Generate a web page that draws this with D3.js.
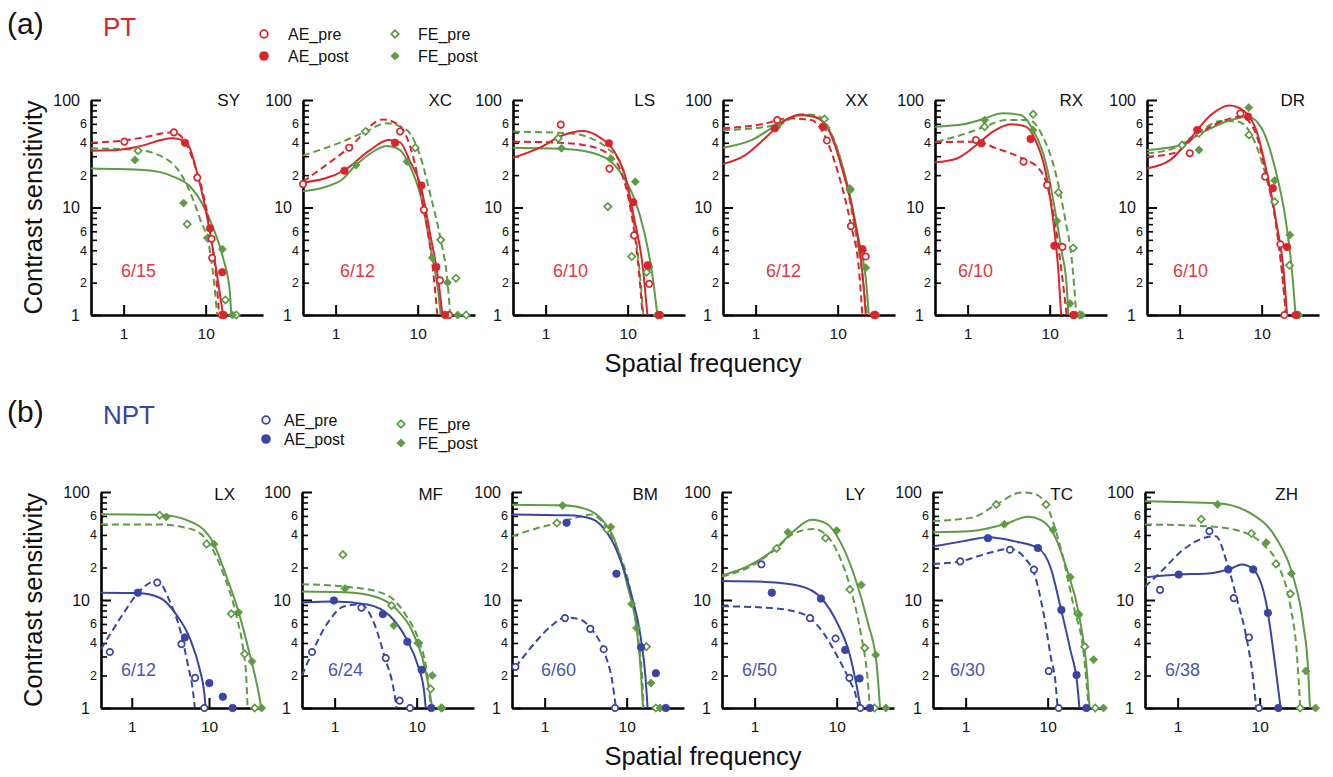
<!DOCTYPE html>
<html>
<head>
<meta charset="utf-8">
<script src="https://cdn.jsdelivr.net/npm/d3@7"></script>
<style>
  body { margin: 0; background: #fff; }
  svg { display: block; }
  text { font-family: "Liberation Sans", Arial, sans-serif; }
</style>
</head>
<body>
<svg id="chart" width="1333" height="777"></svg>
<script>
// ---- data: [spatial frequency, contrast sensitivity] ----
const subjects = ["SY", "XC", "LS", "XX", "RX", "DR", "LX", "MF", "BM", "LY", "TC", "ZH"];
const acuity = ["6/15", "6/12", "6/10", "6/12", "6/10", "6/10", "6/12", "6/24", "6/60", "6/50", "6/30", "6/38"];
const groups = ["PT", "NPT"];
const panelTags = ["(a)", "(b)"];
const legendLabels = ["AE_pre", "AE_post", "FE_pre", "FE_post"];
const xTicks = [1, 10];
const yMajor = [1, 10, 100];
const yMinor = [2, 3, 4, 5, 6, 7, 8, 9, 20, 30, 40, 50, 60, 70, 80, 90];
const yMinorLabelled = [2, 4, 6, 20, 40, 60];

const aePre = [
  [[1.02, 41], [4.1, 50], [7.9, 19], [11.8, 5.1], [12, 3.4], [15.7, 1]],
  [[0.4, 16.5], [1.46, 36], [6.1, 51], [11.9, 9.5], [18.7, 2.1], [24.2, 1]],
  [[1.53, 59], [6.0, 23], [12, 5.5], [18.3, 1.95], [24.8, 1]],
  [[1.83, 65], [7.4, 42], [14.5, 6.7], [22, 3.5], [29, 1]],
  [[1.26, 42.5], [4.8, 26.7], [9.3, 16.2], [14.3, 4.3], [19.4, 1]],
  [[1.33, 32], [5.5, 75], [11, 19.4], [16.9, 4.55], [18.9, 1]],
  [[0.52, 3.3], [2.14, 14.5], [4.4, 3.9], [6.6, 1.9], [8.7, 1]],
  [[0.53, 3.3], [2.12, 8.5], [4.2, 2.9], [6.2, 1.17], [8.3, 1]],
  [[0.44, 2.4], [1.77, 6.8], [3.6, 5.4], [5.25, 3.5], [7.2, 1]],
  [[1.21, 21.4], [4.73, 6.8], [9.7, 4.4], [14.3, 1.9], [19.4, 1]],
  [[0.86, 22.8], [3.47, 29.2], [6.8, 19.1], [10.3, 2.2], [13.6, 1]],
  [[0.61, 12.4], [2.44, 43.4], [4.83, 10.4], [7.4, 4.5], [9.8, 1]]
];
const aePost = [
  [[5.6, 40], [11.3, 6.4], [15.9, 2.5], [16.6, 1]],
  [[1.28, 22], [5.3, 40], [11.1, 16], [16.9, 2.8], [21.6, 1]],
  [[5.9, 39.5], [11.7, 11.2], [17.5, 2.9], [24, 1]],
  [[1.71, 54.5], [6.6, 56.5], [20, 4.1], [27.8, 1]],
  [[1.47, 39.5], [5.86, 43.4], [11.4, 4.4], [19.8, 1]],
  [[1.64, 52.6], [6.83, 70], [13.7, 15.1], [20.4, 4.3], [26, 1]],
  [[1.2, 11.7], [4.86, 4.5], [10.1, 1.7], [15.1, 1.27], [20.2, 1]],
  [[0.98, 9.9], [3.87, 7.4], [7.7, 4.1], [11.5, 2.26], [15.1, 1]],
  [[1.85, 52], [7.5, 17.5], [15, 3.65], [22.7, 2.1], [30, 1]],
  [[1.62, 11.7], [6.43, 10.3], [12.7, 3.45], [19, 1.88], [25.4, 1]],
  [[1.87, 37.4], [7.6, 30.3], [14.7, 8.1], [22.5, 2.02], [29.6, 1]],
  [[1.03, 17.2], [4.14, 19.2], [8.34, 19.2], [12.6, 7.6], [16.9, 1]]
];
const fePre = [
  [[1.5, 33.8], [5.96, 7], [10.6, 5.2], [17.4, 1.38], [23.6, 1]],
  [[2.31, 51], [9.35, 36], [19.1, 5], [29.3, 2.2], [39, 1]],
  [[1.42, 44], [5.73, 10.2], [11.2, 3.5], [17, 2.5], [23.1, 1]],
  [[1.79, 56], [6.9, 66.5], [14.1, 14.9], [20, 4], [29, 1]],
  [[1.61, 56.5], [6.3, 73.6], [12.8, 13.8], [19.4, 4.2], [23.3, 1]],
  [[1.07, 38], [1.72, 49], [7.0, 47.3], [14.4, 11.3], [21.8, 2.9], [27, 1]],
  [[2.3, 61], [9.3, 33], [19.4, 7.45], [28.9, 3.16], [39, 1]],
  [[1.26, 26.3], [4.95, 8.9], [10.4, 4.0], [14.8, 1.5], [20, 1]],
  [[1.41, 51.6], [5.75, 45], [17.4, 3.7], [22.7, 1]],
  [[1.85, 30], [7.3, 37.5], [14.5, 12.5], [22, 3.6], [29, 1]],
  [[2.36, 76.5], [9.55, 76.5], [23.3, 7.5], [28.3, 3.7], [38, 1]],
  [[1.94, 56], [7.96, 41.3], [15.8, 21.6], [23.7, 11.4], [31.2, 1]]
];
const fePost = [
  [[1.37, 27.7], [5.38, 11], [11, 5.2], [16, 4.1], [21.2, 1]],
  [[1.77, 24.8], [7.4, 26.7], [15.1, 3.4], [23.1, 2], [30.7, 1]],
  [[1.56, 35.5], [6.2, 28.3], [12.4, 17.4], [18.3, 2.8], [23.4, 1]],
  [[1.88, 58.5], [7.2, 55.5], [14.2, 14.5], [22, 2.75], [28, 1]],
  [[1.61, 65], [6.25, 52.6], [12.2, 7.5], [17.7, 1.28], [24.5, 1]],
  [[1.72, 34.3], [6.96, 85], [14.4, 17.8], [22, 5.55], [28.5, 1]],
  [[2.8, 58.8], [11.6, 32.9], [24.1, 7.7], [36, 2.7], [48, 1]],
  [[1.34, 12.8], [5.27, 5.8], [10.6, 4.0], [15.5, 2.0], [20.4, 1]],
  [[1.66, 75], [6.4, 47.4], [11.5, 9.2], [13.2, 5.5], [19.8, 1.7], [25.5, 1]],
  [[2.54, 42.4], [10, 43.9], [20, 13.8], [29.9, 3.1], [39.8, 1]],
  [[2.96, 50.2], [11.7, 44.5], [18.9, 16.3], [24, 7.3], [36.3, 2.8], [47.9, 1]],
  [[3.06, 76.8], [12, 34], [24.4, 17.6], [36.4, 2.2], [48, 1]]
];

// fitted curves, sampled from the figure
const aePreFit = [
  [[0.4, 40], [1, 42], [1.95, 45.7], [3, 49], [4.1, 50], [5.9, 38], [7.8, 21.5], [9.4, 13], [11.8, 5], [13.6, 2], [14.6, 1]],
  [[0.4, 17.4], [1.46, 36], [3.8, 66], [6.1, 57], [8.9, 28.6], [11.9, 9.5], [15, 3.1], [17.4, 1]],
  [[0.4, 41], [1.5, 40], [3, 38], [5.7, 31.8], [8.3, 21.6], [11, 9.1], [13.2, 3.4], [15.2, 1]],
  [[0.4, 54.5], [1.18, 59.4], [2.49, 67.5], [4.76, 65], [6.9, 47], [10, 21.6], [14.5, 6.9], [18.3, 2.5], [20, 1]],
  [[0.4, 40.4], [1.26, 41], [2.23, 35.5], [4.65, 28.6], [7.4, 23], [9.3, 16.2], [11.7, 6.9], [14, 2.5], [16.1, 1]],
  [[0.4, 29.7], [0.84, 31.9], [1.64, 47.3], [3.19, 62.9], [5.65, 70], [8.3, 50.8], [11, 23.1], [14.6, 7.9], [17.7, 2.5], [19.8, 1]],
  [[0.4, 3.5], [0.76, 7.3], [1.26, 12.1], [2.14, 15.1], [3.1, 9.75], [4.18, 5.45], [5.37, 2.45], [6.25, 1.37], [6.55, 1]],
  [[0.4, 2.0], [0.53, 3.26], [0.83, 6.2], [1.32, 8.77], [2.08, 9.1], [3.0, 6.2], [4.12, 2.88], [5.2, 1.54], [5.7, 1]],
  [[0.44, 2.38], [0.77, 4.06], [1.22, 5.8], [1.77, 6.9], [2.56, 6.7], [3.7, 5.4], [5.34, 3.28], [6.7, 1.73], [7.4, 1]],
  [[0.4, 8.76], [1.36, 8.5], [2.93, 7.9], [4.73, 6.8], [6.9, 4.94], [10.2, 3], [14.3, 1.81], [17.3, 1.27], [18.5, 1]],
  [[0.4, 21.6], [0.86, 22.8], [1.9, 27.2], [3.47, 29.8], [5.25, 24.5], [6.9, 17.3], [9.1, 6.9], [10.9, 3], [12.6, 1.58], [13.2, 1]],
  [[0.4, 13.3], [0.65, 18.8], [1.13, 28.6], [2.13, 37.7], [2.93, 39], [4.02, 21.7], [5.3, 10.1], [6.94, 4.4], [8.3, 1.9], [9.1, 1]]
];
const aePostFit = [
  [[0.4, 33.8], [0.7, 34], [1.47, 36.7], [3.9, 44], [5.9, 40], [7.8, 21.5], [10.3, 8.5], [13.6, 2.5], [16.3, 1]],
  [[0.4, 17], [1.28, 22.2], [2.6, 34], [4.4, 42.4], [6.1, 40.4], [8.1, 26.7], [10.8, 16.2], [14.3, 5.5], [18.2, 1.9], [20, 1]],
  [[0.4, 29], [0.89, 36.7], [1.56, 46.5], [2.85, 51.5], [4.76, 44], [6.9, 33], [9.5, 18.7], [12, 7.9], [15.2, 2.9], [17.4, 1]],
  [[0.4, 25.4], [0.74, 30.6], [1.3, 44], [2.06, 61], [3.28, 72.5], [5.2, 70], [7.6, 54.5], [11, 24.8], [15.9, 7.9], [20, 2.5], [22, 1]],
  [[0.4, 26.3], [0.74, 28.6], [1.28, 38.1], [2.03, 50.8], [3.37, 59.5], [5.1, 56.5], [6.7, 42.4], [8.9, 21.6], [11.2, 6.9], [12.8, 2.5], [13.8, 1]],
  [[0.4, 23.1], [0.77, 27.7], [1.36, 44], [2.4, 72.5], [4.05, 88.9], [6.2, 78.3], [8.7, 50.8], [11.5, 21.5], [15.3, 6.9], [18.6, 2.5], [20.4, 1]],
  [[0.4, 11.7], [1.2, 11.6], [2.3, 10.5], [3.79, 7.3], [5.66, 4.4], [7.6, 2.27], [8.7, 1.37], [9.06, 1]],
  [[0.4, 9.5], [0.98, 9.7], [2.5, 9.1], [4.73, 7.1], [7.5, 4.37], [10.3, 2.5], [12.3, 1.44], [12.9, 1]],
  [[0.4, 62], [1.94, 60.8], [3.7, 56.6], [5.34, 45.5], [7.7, 27.8], [11.2, 11.8], [14.7, 4.7], [16.9, 2], [18, 1]],
  [[0.4, 15], [1.36, 14.7], [3.55, 13.5], [6.43, 10.5], [10.2, 6.1], [14.3, 3.2], [17.3, 1.69], [19.6, 1]],
  [[0.4, 31.3], [0.91, 34.9], [1.9, 38.1], [3.98, 34.9], [7.6, 30.3], [10.9, 19.8], [14.4, 8.5], [19, 3.4], [22.9, 1.69], [24.4, 1]],
  [[0.4, 16.2], [1.03, 17.2], [2.33, 17.6], [4.41, 19.5], [6.05, 21.3], [8.34, 19.2], [12, 9.4], [15.8, 2.2], [18, 1]]
];
const fePreFit = [
  [[0.4, 35.5], [1.47, 34.3], [3.7, 26.7], [5.9, 16.2], [8.5, 7.9], [11.3, 3.9], [13, 1.65], [13.8, 1]],
  [[0.4, 30.4], [1.21, 41], [2.31, 50.8], [4.17, 60.7], [7.4, 52.4], [10.8, 29.7], [14.3, 13.1], [19.1, 5], [23.1, 2.04], [24.9, 1]],
  [[0.4, 50.8], [1.88, 49], [3.6, 44], [5.7, 35.5], [8.3, 25], [11, 10.5], [13.2, 3.9], [14.5, 1.9], [15.5, 1]],
  [[0.4, 52.4], [1.88, 58.5], [3.6, 73.6], [5.7, 71.4], [7.6, 56.5], [11, 26.7], [15.9, 6.9], [20, 2.36], [22.7, 1]],
  [[0.42, 41], [0.97, 49], [1.61, 56.5], [2.94, 65], [5.6, 65], [8.1, 47], [11.7, 21.6], [15.4, 7.9], [18.5, 3.4], [21.2, 1]],
  [[0.4, 31.9], [0.84, 35.5], [1.64, 49], [3.19, 63.8], [5.1, 63], [7.5, 47.3], [11, 20.8], [14.6, 7.9], [17.7, 2.5], [19.8, 1]],
  [[0.4, 50], [2.3, 50], [6.2, 44.8], [10.3, 32.4], [15.4, 17.4], [23, 6.8], [28, 3.3], [30.5, 1.83], [31.6, 1]],
  [[0.4, 14], [1.32, 13.3], [3.28, 12], [5.2, 10.1], [7.5, 7.1], [10.8, 4.08], [12.9, 2.5], [14.1, 1.54], [14.8, 1]],
  [[0.4, 39], [0.77, 45.7], [1.41, 51.6], [2.56, 58.5], [3.7, 62], [5.34, 50], [7.7, 30], [11.2, 11.8], [14, 4.1], [15.4, 2], [16.1, 1]],
  [[0.4, 16.5], [0.84, 20], [1.85, 30], [2.93, 40.9], [5.2, 45.5], [7.6, 39.4], [11.2, 23.8], [14.9, 12.5], [20, 4.6], [23.7, 1.95], [25.4, 1]],
  [[0.4, 53.8], [1.2, 57.9], [2.36, 76.5], [4.79, 99], [6.9, 96], [9.55, 76.5], [14.4, 30.3], [20.9, 8.5], [27.5, 3.2], [31.6, 1]],
  [[0.4, 50], [2.13, 48.3], [5.8, 43.4], [10.9, 32.9], [17.3, 20.2], [23.7, 8.75], [28.5, 3.1], [31.2, 1]]
];
const fePostFit = [
  [[0.4, 23], [1.77, 22.3], [4.08, 19.3], [6.5, 15.6], [9.3, 10.5], [12.4, 6.4], [16.3, 3.4], [19.7, 1.65], [20.5, 1]],
  [[0.4, 14.2], [1.1, 17.4], [1.77, 24.8], [2.85, 33], [4.17, 37.3], [6.1, 34.2], [8.1, 23.9], [10.8, 13.1], [15.1, 3.4], [17.8, 1.65], [19.1, 1]],
  [[0.4, 36], [1.88, 34.9], [3.95, 31.8], [6.3, 26.7], [9.1, 18.7], [12, 12.2], [15.9, 5.95], [20, 2.36], [23, 1]],
  [[0.4, 36], [0.89, 42.4], [1.56, 54.5], [2.49, 67.5], [3.95, 72.5], [6.3, 65], [9.1, 41], [13.2, 16.2], [18.3, 4.8], [22, 2.2], [24, 1]],
  [[0.4, 56.5], [0.89, 59.4], [1.54, 66.5], [2.68, 75.4], [4.44, 72.5], [6.1, 54.5], [8.9, 26.7], [11.7, 9.2], [14, 3.9], [16.1, 1.9], [16.9, 1]],
  [[0.4, 34.3], [0.93, 37.3], [1.98, 50.8], [3.86, 63.8], [6.8, 70], [10, 54.5], [14.6, 23], [19.5, 7.9], [23.5, 2.5], [25.9, 1]],
  [[0.4, 62.3], [2.3, 61.5], [6.2, 52], [11.4, 33.5], [17, 16.2], [24.1, 7.8], [34, 3.04], [44, 1.37], [47.5, 1]],
  [[0.4, 12], [1.32, 11.8], [3.28, 10.6], [5.67, 8.2], [8.56, 5.4], [11.8, 2.88], [14.1, 1.54], [15.5, 1]],
  [[0.4, 76.3], [1.66, 75.2], [3.07, 70.1], [4.87, 56.6], [7.04, 36.8], [10.2, 13.6], [13.4, 5], [15, 2], [15.8, 1]],
  [[0.4, 16.9], [0.84, 20.7], [1.85, 30.6], [2.93, 42.9], [4.96, 55.3], [7.6, 50.7], [11.2, 34], [16.5, 16.6], [24.1, 6.1], [30.6, 2.6], [33.8, 1]],
  [[0.4, 42.4], [1.2, 43.6], [2.96, 50.2], [5.75, 59], [8.3, 55], [12, 40], [17.4, 18.5], [24, 7.4], [30.2, 2.1], [32.4, 1]],
  [[0.4, 82.3], [3.06, 78.6], [8.34, 61.5], [15.8, 37.6], [24.9, 17.6], [34.2, 5.8], [39.1, 2.2], [41, 1]]
];

// ---- layout ----
const rows = [
  { top: 100, bottom: 315, color: "#d8262d", label: "#e0393f" },
  { top: 492, bottom: 708, color: "#3a44a3", label: "#4a55b3" }
];
const green = "#5f9b45";
const panelX = [91, 303, 513, 723, 935, 1147, 101, 302, 512, 722, 933, 1145];
const panelW = [172, 172, 172, 172, 172, 172, 162, 172, 172, 172, 172, 172];
const nameDx = [149, 149, 142, 145, 148, 158, 134, 141, 146, 143, 140, 153];
const acuityDx = [30, 37, 40, 43, 23, 26, 20, 26, 29, 20, 17, 20];

const svg = d3.select("#chart");

const diamond = d3.symbol().type(d3.symbolSquare);

function marker(g, pts, x, y, color, kind, filled) {
  g.append("g").selectAll("path").data(pts).join("path")
    .attr("transform", d => kind === "circle"
      ? `translate(${x(d[0])},${y(d[1])})`
      : `translate(${x(d[0])},${y(d[1])}) rotate(45)`)
    .attr("d", kind === "circle"
      ? d3.symbol().type(d3.symbolCircle).size(filled ? 44 : 32)()
      : diamond.size(filled ? 32 : 26)())
    .attr("fill", filled ? color : "#fff")
    .attr("stroke", color)
    .attr("stroke-width", filled ? 0.8 : 1.7);
}

subjects.forEach((name, i) => {
  const r = Math.floor(i / 6);
  const row = rows[r];
  const x = d3.scaleLog().domain([0.4, 50]).range([panelX[i], panelX[i] + panelW[i]]);
  const y = d3.scaleLog().domain([1, 100]).range([row.bottom, row.top]);
  const g = svg.append("g");

  // y axis: major ticks + labels
  const yAxisMajor = g.append("g")
    .attr("transform", `translate(${panelX[i]},0)`)
    .call(d3.axisLeft(y).tickValues(yMajor).tickSize(-10).tickSizeOuter(0)
      .tickPadding(11).tickFormat(d3.format("d")));
  yAxisMajor.select(".domain").attr("stroke-width", 2.6);
  yAxisMajor.selectAll(".tick line").attr("stroke-width", 2);
  yAxisMajor.selectAll(".tick text").attr("font-size", 16).attr("fill", "#111")
    .attr("font-family", "Liberation Sans, Arial, sans-serif");

  const yAxisMinor = g.append("g")
    .attr("transform", `translate(${panelX[i]},0)`)
    .call(d3.axisLeft(y).tickValues(yMinor).tickSize(-6).tickSizeOuter(0)
      .tickPadding(4)
      .tickFormat(d => yMinorLabelled.includes(d) ? String(d >= 10 ? d / 10 : d) : ""));
  yAxisMinor.select(".domain").remove();
  yAxisMinor.selectAll(".tick line").attr("stroke-width", 1.6);
  yAxisMinor.selectAll(".tick text").attr("font-size", 12.5).attr("fill", "#111")
    .attr("font-family", "Liberation Sans, Arial, sans-serif");

  // x axis
  const xAxis = g.append("g")
    .attr("transform", `translate(0,${row.bottom})`)
    .call(d3.axisBottom(x).tickValues(xTicks).tickSize(-10).tickSizeOuter(0)
      .tickPadding(13).tickFormat(d3.format("d")));
  xAxis.select(".domain").attr("stroke-width", 2.4);
  xAxis.selectAll(".tick line").attr("stroke-width", 2);
  xAxis.selectAll(".tick text").attr("font-size", 15.5).attr("fill", "#111")
    .attr("font-family", "Liberation Sans, Arial, sans-serif");

  // fitted curves
  const line = d3.line()
    .x(d => x(d[0]))
    .y(d => y(d[1]))
    .curve(d3.curveMonotoneX);

  const fits = [
    [fePreFit[i], green, true],
    [fePostFit[i], green, false],
    [aePreFit[i], row.color, true],
    [aePostFit[i], row.color, false]
  ];
  fits.forEach(([pts, color, dashed]) => {
    g.append("path")
      .attr("d", line(pts))
      .attr("fill", "none")
      .attr("stroke", color)
      .attr("stroke-width", 2)
      .attr("stroke-dasharray", dashed ? "7,4" : null);
  });

  // data points
  marker(g, fePre[i], x, y, green, "diamond", false);
  marker(g, fePost[i], x, y, green, "diamond", true);
  marker(g, aePre[i], x, y, row.color, "circle", false);
  marker(g, aePost[i], x, y, row.color, "circle", true);

  // labels
  g.append("text")
    .attr("x", panelX[i] + nameDx[i])
    .attr("y", row.top + (r === 0 ? 6 : 8))
    .attr("text-anchor", "end")
    .attr("font-size", 17)
    .attr("fill", "#111")
    .text(name);

  g.append("text")
    .attr("x", panelX[i] + acuityDx[i])
    .attr("y", r === 0 ? 277 : 676)
    .attr("font-size", 18)
    .attr("fill", row.label)
    .text(acuity[i]);
});

// row headers, legends, axis titles
rows.forEach((row, r) => {
  const base = r === 0 ? 0 : 388;

  svg.append("text").attr("x", 7).attr("y", 34 + base)
    .attr("font-size", 30).attr("fill", "#111").text(panelTags[r]);
  svg.append("text").attr("x", 103).attr("y", 36 + base)
    .attr("font-size", 26).attr("fill", row.color).text(groups[r]);

  const lg = svg.append("g");
  const ly = r === 0 ? [34, 56, 34, 56] : [32, 51, 36, 55];
  const lx = r === 0 ? [264, 264, 395, 395] : [266, 266, 401, 401];
  const tx = r === 0 ? [288, 288, 418, 418] : [284, 284, 418, 418];
  legendLabels.forEach((lab, k) => {
    const color = k < 2 ? row.color : green;
    const filled = k % 2 === 1;
    const cy = ly[k] + base;
    if (k < 2) {
      lg.append("circle").attr("cx", lx[k]).attr("cy", cy)
        .attr("r", filled ? 4.8 : 3.8)
        .attr("fill", filled ? color : "#fff")
        .attr("stroke", color).attr("stroke-width", filled ? 0 : 1.8);
    } else {
      lg.append("path")
        .attr("transform", `translate(${lx[k]},${cy}) rotate(45)`)
        .attr("d", diamond.size(filled ? 40 : 28)())
        .attr("fill", filled ? color : "#fff")
        .attr("stroke", color).attr("stroke-width", filled ? 0 : 1.8);
    }
    lg.append("text").attr("x", tx[k]).attr("y", cy + 6)
      .attr("font-size", 16).attr("fill", "#111").text(lab);
  });

  const mid = (row.top + row.bottom) / 2;
  svg.append("text")
    .attr("transform", `translate(42,${mid}) rotate(-90)`)
    .attr("text-anchor", "middle")
    .attr("font-size", 25.5)
    .attr("fill", "#111")
    .text("Contrast sensitivity");

  svg.append("text")
    .attr("x", 703)
    .attr("y", row.bottom + 57)
    .attr("text-anchor", "middle")
    .attr("font-size", 25.5)
    .attr("fill", "#111")
    .text("Spatial frequency");
});
</script>
</body>
</html>
